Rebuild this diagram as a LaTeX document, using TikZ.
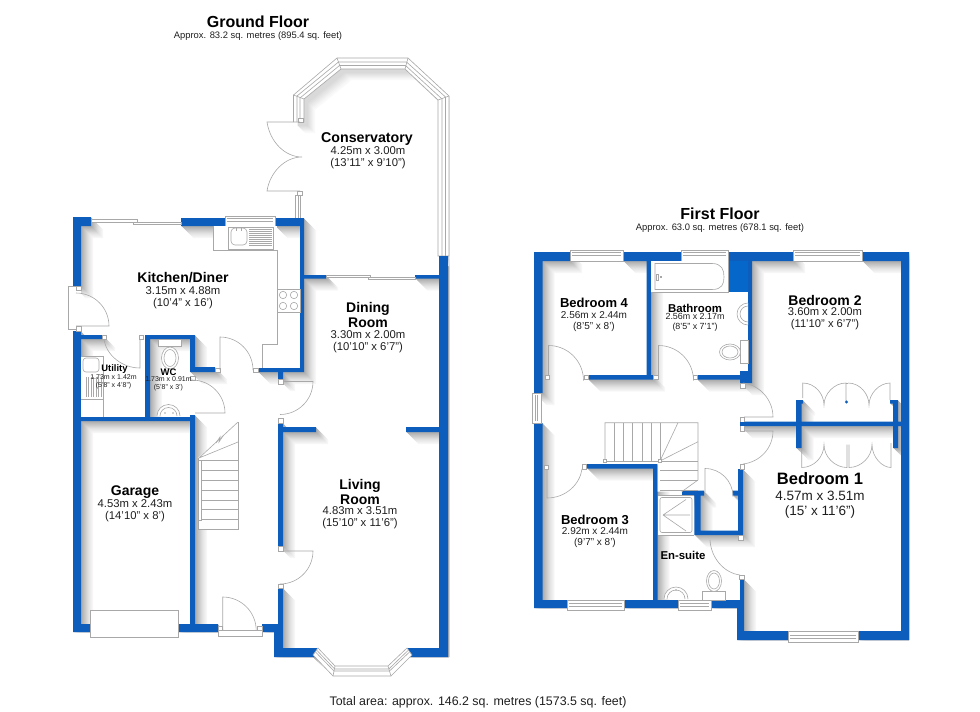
\documentclass[tikz,border=0pt]{standalone}
\usepackage{fontspec}
\setmainfont{Liberation Sans}
\definecolor{wallblue}{HTML}{0D5EBC}
\definecolor{blockblue}{HTML}{0567C9}
\definecolor{linegrey}{HTML}{A8A8A8}
\definecolor{txt}{HTML}{1E1E1E}
\newcommand{\Fs}[1]{\fontsize{#1}{#1}\selectfont}
\newcommand{\WR}[4]{(#1,#2) rectangle (#3,#4)}
\newcommand{\wallsG}{
 \WR{73}{217}{91}{226} \WR{73}{217}{81}{286} \WR{181}{218}{225}{226} \WR{275}{218}{303}{226}
 \WR{300}{218}{304}{372} \WR{304}{275}{326}{278.5} \WR{415}{275}{439}{278.5}
 \WR{258}{368}{304}{372} \WR{278}{372}{283}{379}
 \WR{145}{335}{195}{339} \WR{145}{335}{150}{421} \WR{190}{335}{195}{372} \WR{195}{367}{215}{372}
 \WR{73}{331}{81}{421} \WR{73}{335}{103}{339} \WR{73}{417}{195}{421} \WR{190}{415}{195}{624}
 \WR{73}{417}{81}{632} \WR{73}{624}{90}{632} \WR{178}{624}{218}{632} \WR{262}{624}{283}{632}
 \WR{278}{423}{283}{546} \WR{283}{427}{316}{432} \WR{406}{427}{439}{432} \WR{278}{588}{283}{632}
 \WR{274}{624}{283}{657} \WR{274}{648}{317}{657} \WR{407}{648}{448}{657} \WR{439}{256}{448}{657}
}
\newcommand{\consFrame}{ (293.5,122)--(293.5,95)--(337,58)--(408,58)--(449,96)--(449,256)--(438,256)--(438,100)--(405,69)--(341,69)--(304,99)--(304,122)--cycle }
\newcommand{\wallsF}{
 \WR{534}{252}{570}{261} \WR{623}{252}{681}{261} \WR{728}{252}{793}{261} \WR{862}{252}{909}{261}
 \WR{534}{252}{542.5}{393} \WR{534}{423}{542.5}{608} \WR{901}{252}{909}{640}
 \WR{534}{600}{567}{608} \WR{624}{600}{678}{608} \WR{711}{600}{744}{608}
 \WR{737}{600}{744}{640} \WR{737}{631}{788}{640} \WR{858}{631}{909}{640}
 \WR{646.5}{261}{651}{379.5} \WR{588}{375}{653}{379.5} \WR{697}{375}{752}{379.5}
 \WR{748}{261}{752}{380} \WR{740}{371}{752}{383}
 \WR{740}{421.7}{902}{426} \WR{796}{400}{801.7}{448} \WR{796}{400}{803}{403.5}
 \WR{893}{400}{898}{448} \WR{890}{400}{898}{403.5}
 \WR{587}{464}{657.5}{468.7} \WR{653}{464}{657.5}{600}
 \WR{694.3}{491}{700.7}{535} \WR{682}{490.7}{704}{495.7} \WR{694.3}{530.7}{743}{535}
 \WR{738}{469}{743}{535} \WR{732.7}{490.7}{738}{495.7}
 \WR{740}{579}{744}{600}
}
\tikzset{
 wall/.style={fill=wallblue,draw=none},
 fix/.style={draw=linegrey,line width=.6pt,fill=white},
 ln/.style={draw=linegrey,line width=.6pt},
 post/.style={draw=linegrey,line width=.5pt,fill=white},
 lab/.style={inner sep=0pt,text=black,font=\bfseries,align=center},
 dim/.style={inner sep=0pt,text=txt,align=center},
 x=1pt,y=-1pt
}
\begin{document}
\begin{tikzpicture}
\useasboundingbox (0,0) rectangle (980,712);
% shadows: opaque steps from faint and far to dark and near
\begin{scope}
 \clip (73,217)--(296,217)--(296,95)--(337,58)--(408,58)--(449,96)--(449,657)--(407,657)--(390,676)--(333,676)--(313,657)--(274,657)--(274,632)--(73,632)--cycle;
 \foreach \dd/\gg in {12/3,11/5,10/7,9/9,8/11,7/14,6/17,5/20,4/23,3/26,2/29,1/32}{
  \begin{scope}[shift={(\dd,\dd)}] \fill[black!\gg] \wallsG; \end{scope} }
 \foreach \dd/\gg in {11/2,10/3,9/5,8/7,7/9,6/11,5/13,4/15}{
  \begin{scope}[shift={(\dd,\dd)}] \fill[black!\gg] \consFrame; \end{scope} }
\end{scope}
\begin{scope}
 \clip (534,252)--(909,252)--(909,640)--(737,640)--(737,608)--(534,608)--cycle;
 \foreach \dd/\gg in {12/3,11/5,10/7,9/9,8/11,7/14,6/17,5/20,4/23,3/26,2/29,1/32}{
  \begin{scope}[shift={(\dd,\dd)}] \fill[black!\gg] \wallsF; \end{scope} }
\end{scope}
% conservatory frame
\fill[white] \consFrame;
\draw[ln] (293.5,122)--(293.5,95)--(337,58)--(408,58)--(449,96)--(449,256)--(438,256)--(438,100)--(405,69)--(341,69)--(304,99)--(304,122);
\draw[ln] (297,122)--(297,96)--(338.5,62)--(406.5,62)--(445.5,97)--(445.5,256);
\draw[ln] (300,122)--(300,98)--(339.5,65.5)--(405.5,65.5)--(442,99)--(442,256);
\draw[ln] (293.5,95)--(304,99) (337,58)--(341,69) (408,58)--(405,69) (449,96)--(438,100);
\draw[post] (298,118) rectangle (303,122);
\draw[fix] (295.5,195) rectangle (300.5,218); \draw[ln] (298,195)--(298,218);
\draw[post] (297,191) rectangle (302,195);
% French doors
\draw[ln] (300,122)--(267,122) .. controls (270,142) and (285,157) .. (302,157) .. controls (285,157) and (270,172) .. (267,191)--(300,191);
% walls
\fill[wall] \wallsG;
\fill[wall] \wallsF;
\fill[blockblue] (728,261) rectangle (748,292);
% === ground floor fixtures
\draw[fix] (91,219.5) rectangle (137,222); \draw[fix] (133,222) rectangle (181,224.5);
\draw[fix] (326,275) rectangle (370,277.3); \draw[fix] (368,277.3) rectangle (415,279.5);
\draw[fix] (225,216) rectangle (275,226); \draw[ln] (227,218.5)--(273,218.5) (227,221)--(273,221);
% kitchen units
\fill[white] (213,226) rectangle (277,250);
\fill[white] (277,250) rectangle (300,368);
\fill[white] (262,344) rectangle (277,368);
\draw[ln] (213,226)--(213,250)--(277,250)--(277,344)--(262,344)--(262,368);
\draw[ln] (277,289) rectangle (300,312);
\foreach \cx/\cy in {283/295,294/295,283/306,294/306}{\draw[ln] (\cx,\cy) circle (3.7);}
\draw[ln] (228,227) rectangle (273,249);
\draw[ln,rounded corners=4pt] (231,228) rectangle (247,245);
\foreach \yy in {229,231,233,235,237,239,241,243,245}{\draw[ln,line width=.4pt] (249,\yy)--(272,\yy);}
\draw[ln] (236,228)--(236,231) (241,228)--(241,231);
% kitchen door
\draw[fix] (68.7,286) rectangle (76,329);
\fill[white] (72,287) rectangle (81,328.5);
\draw[post] (76,286) rectangle (81,290); \draw[post] (76,326) rectangle (81,331);
\draw[ln] (68.7,286)--(76,286) (68.7,329)--(76,329);
\draw[ln] (76,326)--(109,326) arc[start angle=0,end angle=-90,radius=33];
% utility door
\draw[post] (102,335) rectangle (106,339); \draw[post] (139,335) rectangle (143,339);
\draw[ln] (140,339)--(140,368) .. controls (122,368) and (106,355) .. (104,339);
% WC / utility fixtures
\fill[white] (81,356) rectangle (103,417);
\draw[ln] (81,356)--(103,356) (103,356)--(103,417);
\draw[ln,rounded corners=3pt] (83,358) rectangle (99,372);
\foreach \xx in {86,88.5,91,93.5,96,98.5,101}{\draw[ln,line width=.4pt] (\xx,377)--(\xx,397);}
\draw[ln] (81,399)--(103,399);
\draw[fix] (158,339) rectangle (181,346);
\draw[fix] (170,358) ellipse (8.5 and 11); \draw[ln] (170,358) ellipse (6 and 8.5);
\draw[fix] (157,416) arc[start angle=180,end angle=360,radius=11.5];
\draw[ln] (160,416) arc[start angle=180,end angle=360,radius=8.5];
\fill[linegrey] (165,413) circle (.8) (173,413) circle (.8);
% WC door
\draw[post] (190.5,376) rectangle (195,380);
\draw[ln] (195,413)--(225,413) arc[start angle=0,end angle=-90,radius=33];
% kitchen-hall door
\draw[post] (215,368) rectangle (220,372); \draw[post] (253,368) rectangle (258,372);
\draw[ln] (220,370)--(220,337) arc[start angle=-90,end angle=0,radius=33];
% hall doors
\draw[post] (278.5,379) rectangle (283,384); \draw[post] (278.5,418) rectangle (283,423);
\draw[ln] (283,381.5)--(313,381.5) arc[start angle=0,end angle=90,radius=33];
\draw[post] (278.5,546) rectangle (283,551); \draw[post] (278.5,584) rectangle (283,588.5);
\draw[ln] (283,551)--(313,551) arc[start angle=0,end angle=90,radius=33];
% stairs
\fill[white] (198,458)--(238,422)--(238,529)--(198,529)--cycle;
\draw[ln] (238,422)--(238,529)--(198,529);
\foreach \yy in {460,470,480,490,500,509,519,529}{\draw[ln] (201,\yy)--(238,\yy);}
\draw[ln] (198,460) rectangle (201,520);
\draw[ln] (199,458)--(238,422) (199,458)--(238,442);
\draw[ln] (198,458)--(198,529);
\draw[ln] (216,443)--(220,437)--(219,442)--(223,436);
% garage door & front door
\draw[fix] (90,610.7) rectangle (178,637);
\draw[fix] (218,630.7) rectangle (262,636.5);
\draw[post] (218,626) rectangle (222.7,630.7); \draw[post] (257,626) rectangle (262,630.7);
\draw[ln] (222.7,630)--(222.7,597) arc[start angle=-90,end angle=0,radius=33.5];
% bay
\fill[white] (313,655)--(333,676)--(391,676)--(412,655)--(407,648)--(388,666)--(335,666)--(318,648)--cycle;
\draw[ln] (313,655)--(333,676)--(391,676)--(412,655)--(407,648)--(388,666)--(335,666)--(318,648)--cycle;
\draw[ln] (315.5,652)--(334,671)--(389.5,671)--(409.5,652);
\draw[ln] (317,650.5)--(334.7,669)--(388.8,669)--(408,650.5);
\draw[ln] (333,676)--(335,666) (391,676)--(388,666);
% === first floor fixtures
\draw[fix] (570,250) rectangle (623,261); \draw[ln] (572,252.5)--(621,252.5) (572,255)--(621,255);
\draw[fix] (681,250) rectangle (728,261); \draw[ln] (683,252.5)--(726,252.5) (683,255)--(726,255);
\draw[fix] (793,250) rectangle (862,261); \draw[ln] (795,252.5)--(860,252.5) (795,255)--(860,255);
\draw[fix] (532,393) rectangle (541.7,423); \draw[ln] (535,395)--(535,421) (537.5,395)--(537.5,421);
\draw[fix] (567,600) rectangle (624,610); \draw[ln] (569,603)--(622,603) (569,606)--(622,606);
\draw[fix] (678,600) rectangle (711,610); \draw[ln] (680,603)--(709,603) (680,606)--(709,606);
\draw[fix] (788,631) rectangle (858,642); \draw[ln] (790,635)--(856,635) (790,638)--(856,638);
% bath
\fill[white] (651,261) rectangle (728,292);
\draw[ln] (651,292)--(728,292)--(728,261);
\draw[ln] (655,263.5)--(712,263.5) .. controls (722,263.5) and (724,270) .. (724,277) .. controls (724,284) and (722,289.5) .. (712,289.5)--(655,289.5)--cycle;
\draw[ln] (656,274) rectangle (658,280) (660,276) rectangle (661,277);
% basin, wc
\draw[fix] (748,303) arc[start angle=-90,end angle=-270,radius=11];
\draw[ln] (748,306) arc[start angle=-90,end angle=-270,radius=8];
\draw[fix] (740,340) rectangle (748,363);
\draw[fix] (730,352) ellipse (10.5 and 8); \draw[ln] (730,352) ellipse (8 and 6);
% bed4 & bath doors
\draw[post] (545,375) rectangle (549.5,379.5); \draw[post] (584,375) rectangle (588,379.5);
\draw[ln] (548.5,375)--(548.5,345.5) arc[start angle=-90,end angle=0,radius=35];
\draw[post] (653,375) rectangle (658,379.5); \draw[post] (693,375) rectangle (697,379.5);
\draw[ln] (658.5,375)--(658.5,345.5) arc[start angle=-90,end angle=0,radius=35];
% bedroom 2 / 1 doors
\draw[post] (740,383) rectangle (745,388);
\draw[post] (740,417) rectangle (744,431);
\draw[post] (740,464) rectangle (744,469);
\fill[wallblue] (740,421.7) rectangle (760,426);
\draw[ln] (743,383) .. controls (760,385) and (773,400) .. (773,417) -- (744,417);
\draw[ln] (744,431) -- (773,431) .. controls (773,448) and (760,462) .. (743,464);
% wardrobes
\draw[ln] (802.7,398)--(802.7,383) .. controls (815,383) and (824,394) .. (824,405) .. controls (824,394) and (834,383) .. (846,383)--(846,401);
\draw[ln] (848,383) .. controls (860,383) and (869,394) .. (869,405) .. controls (869,394) and (879,383) .. (890,383)--(890,400);
\draw[ln] (846,383)--(848,383);
\fill[wallblue] (846.5,402) circle (1.6);
\draw[ln] (801.7,448)--(801.7,467.5) .. controls (814,467.5) and (824,457) .. (824,444.5) .. controls (824,457) and (835,467.5) .. (847,467.5)--(847,444.5);
\draw[ln] (849,444.5)--(849,467.5) .. controls (861,467.5) and (872,457) .. (872,444.5) .. controls (872,457) and (882,467.5) .. (891,467.5)--(891,443);
% landing stairs
\fill[white] (605,422.7) rectangle (698,461);
\fill[white] (657.5,461)--(698,461)--(698,480)--(681.7,491.7)--(657.5,491.7)--cycle;
\draw[ln] (605,461)--(605,422.7)--(698,422.7)--(698,480)--(681.7,491.7);
\draw[ln] (605,461)--(698,461);
\foreach \xx in {614,623,632,642,651,660}{\draw[ln] (\xx,422.7)--(\xx,461);}
\draw[ln] (660,461)--(678,422.7) (660,461)--(698,441.7);
\foreach \yy in {470,480,490}{\draw[ln] (660,\yy)--(698,\yy);}
\draw[post] (603.5,459.5) rectangle (606.5,462.5); \draw[post] (658.5,459.5) rectangle (661.5,462.5);
% bed 3 door
\draw[post] (544,465) rectangle (548,469); \draw[post] (582,464) rectangle (586.5,469);
\draw[ln] (547,469)--(547,498) .. controls (566,498) and (580,484) .. (582,469);
% shower
\fill[white] (657.5,495) rectangle (694.3,535);
\draw[ln] (657.5,495)--(694.3,495) (657.5,535)--(694.3,535);
\draw[ln,rounded corners=2pt] (660,497.5) rectangle (692,532.5);
\draw[ln] (663,515)--(686,499.5) (663,515)--(690,515) (663,515)--(686,531);
% closet door
\draw[ln] (705,492)--(705,468.5) arc[start angle=-90,end angle=0,radius=28];
% ensuite door
\draw[post] (738,535) rectangle (743,540); \draw[post] (739,575) rectangle (744,579);
\draw[ln] (710,540) .. controls (711,558) and (724,573) .. (740,575);
% ensuite wc and basin
\draw[fix] (702,591.7) rectangle (725,600);
\draw[fix] (714,581) ellipse (7.5 and 10.5); \draw[ln] (714,581) ellipse (5.5 and 8);
\draw[fix] (664,599) arc[start angle=180,end angle=360,radius=12];
\draw[ln] (667,599) arc[start angle=180,end angle=360,radius=9];
\fill[linegrey] (676,590) circle (.8);
% === labels
\node[lab,font=\bfseries\Fs{16}] (t1) at (258,22) {Ground Floor};
\node[dim,font=\Fs{9.4}] (t2) at (258,36) {Approx. 83.2 sq. metres (895.4 sq. feet)};
\node[lab,font=\bfseries\Fs{16}] (t3) at (720,214) {First Floor};
\node[dim,font=\Fs{9.4}] (t4) at (720,228) {Approx. 63.0 sq. metres (678.1 sq. feet)};
\node[dim,font=\Fs{12.4}] (t5) at (478,702) {Total area: approx. 146.2 sq. metres (1573.5 sq. feet)};
\node[lab,font=\bfseries\Fs{14.2}] (r1) at (367,139) {Conservatory};
\node[dim,font=\Fs{11.3},align=center] (r1a) at (368,157.5) {4.25m x 3.00m\\[.8pt](13'11" x 9'10")};
\node[lab,font=\bfseries\Fs{14}] (r2) at (183,278) {Kitchen/Diner};
\node[dim,font=\Fs{11.3}] (r2a) at (183,297.5) {3.15m x 4.88m\\[.8pt](10'4" x 16')};
\node[lab,font=\bfseries\Fs{9.4}] (r3) at (114.5,369.5) {Utility};
\node[dim,font=\Fs{7}] (r3a) at (113.5,382) {1.73m x 1.42m\\[1pt](5'8" x 4'8")};
\node[lab,font=\bfseries\Fs{9.5}] (r4) at (168.5,372.5) {WC};
\node[dim,font=\Fs{7}] (r4a) at (168.5,384) {1.73m x 0.91m\\[1pt](5'8" x 3')};
\node[lab,font=\bfseries\Fs{14}] (r5) at (368,314.5) {Dining\\[1pt]Room};
\node[dim,font=\Fs{11.3}] (r5a) at (368,341.5) {3.30m x 2.00m\\[.8pt](10'10" x 6'7")};
\node[lab,font=\bfseries\Fs{14}] (r6) at (360,491.5) {Living\\[1pt]Room};
\node[dim,font=\Fs{11.3}] (r6a) at (360,518) {4.83m x 3.51m\\[.8pt](15'10" x 11'6")};
\node[lab,font=\bfseries\Fs{14}] (r7) at (135,492) {Garage};
\node[dim,font=\Fs{11.3}] (r7a) at (135,511) {4.53m x 2.43m\\[.8pt](14'10" x 8')};
\node[lab,font=\bfseries\Fs{13}] (r8) at (594,303) {Bedroom 4};
\node[dim,font=\Fs{10}] (r8a) at (594,321.5) {2.56m x 2.44m\\[.5pt](8'5" x 8')};
\node[lab,font=\bfseries\Fs{11.4}] (r9) at (695,308) {Bathroom};
\node[dim,font=\Fs{8.9}] (r9a) at (695,322.5) {2.56m x 2.17m\\[.5pt](8'5" x 7'1")};
\node[lab,font=\bfseries\Fs{14}] (r10) at (825,300) {Bedroom 2};
\node[dim,font=\Fs{11.2}] (r10a) at (825,318.5) {3.60m x 2.00m\\[.8pt](11'10" x 6'7")};
\node[lab,font=\bfseries\Fs{16.5}] (r11) at (820,479) {Bedroom 1};
\node[dim,font=\Fs{13.5}] (r11a) at (820,504.5) {4.57m x 3.51m\\[1pt](15' x 11'6")};
\node[lab,font=\bfseries\Fs{13}] (r12) at (595,520) {Bedroom 3};
\node[dim,font=\Fs{10}] (r12a) at (595,537.5) {2.92m x 2.44m\\[.5pt](9'7" x 8')};
\node[lab,font=\bfseries\Fs{11.4}] (r13) at (683,555) {En-suite};
\end{tikzpicture}
\end{document}
